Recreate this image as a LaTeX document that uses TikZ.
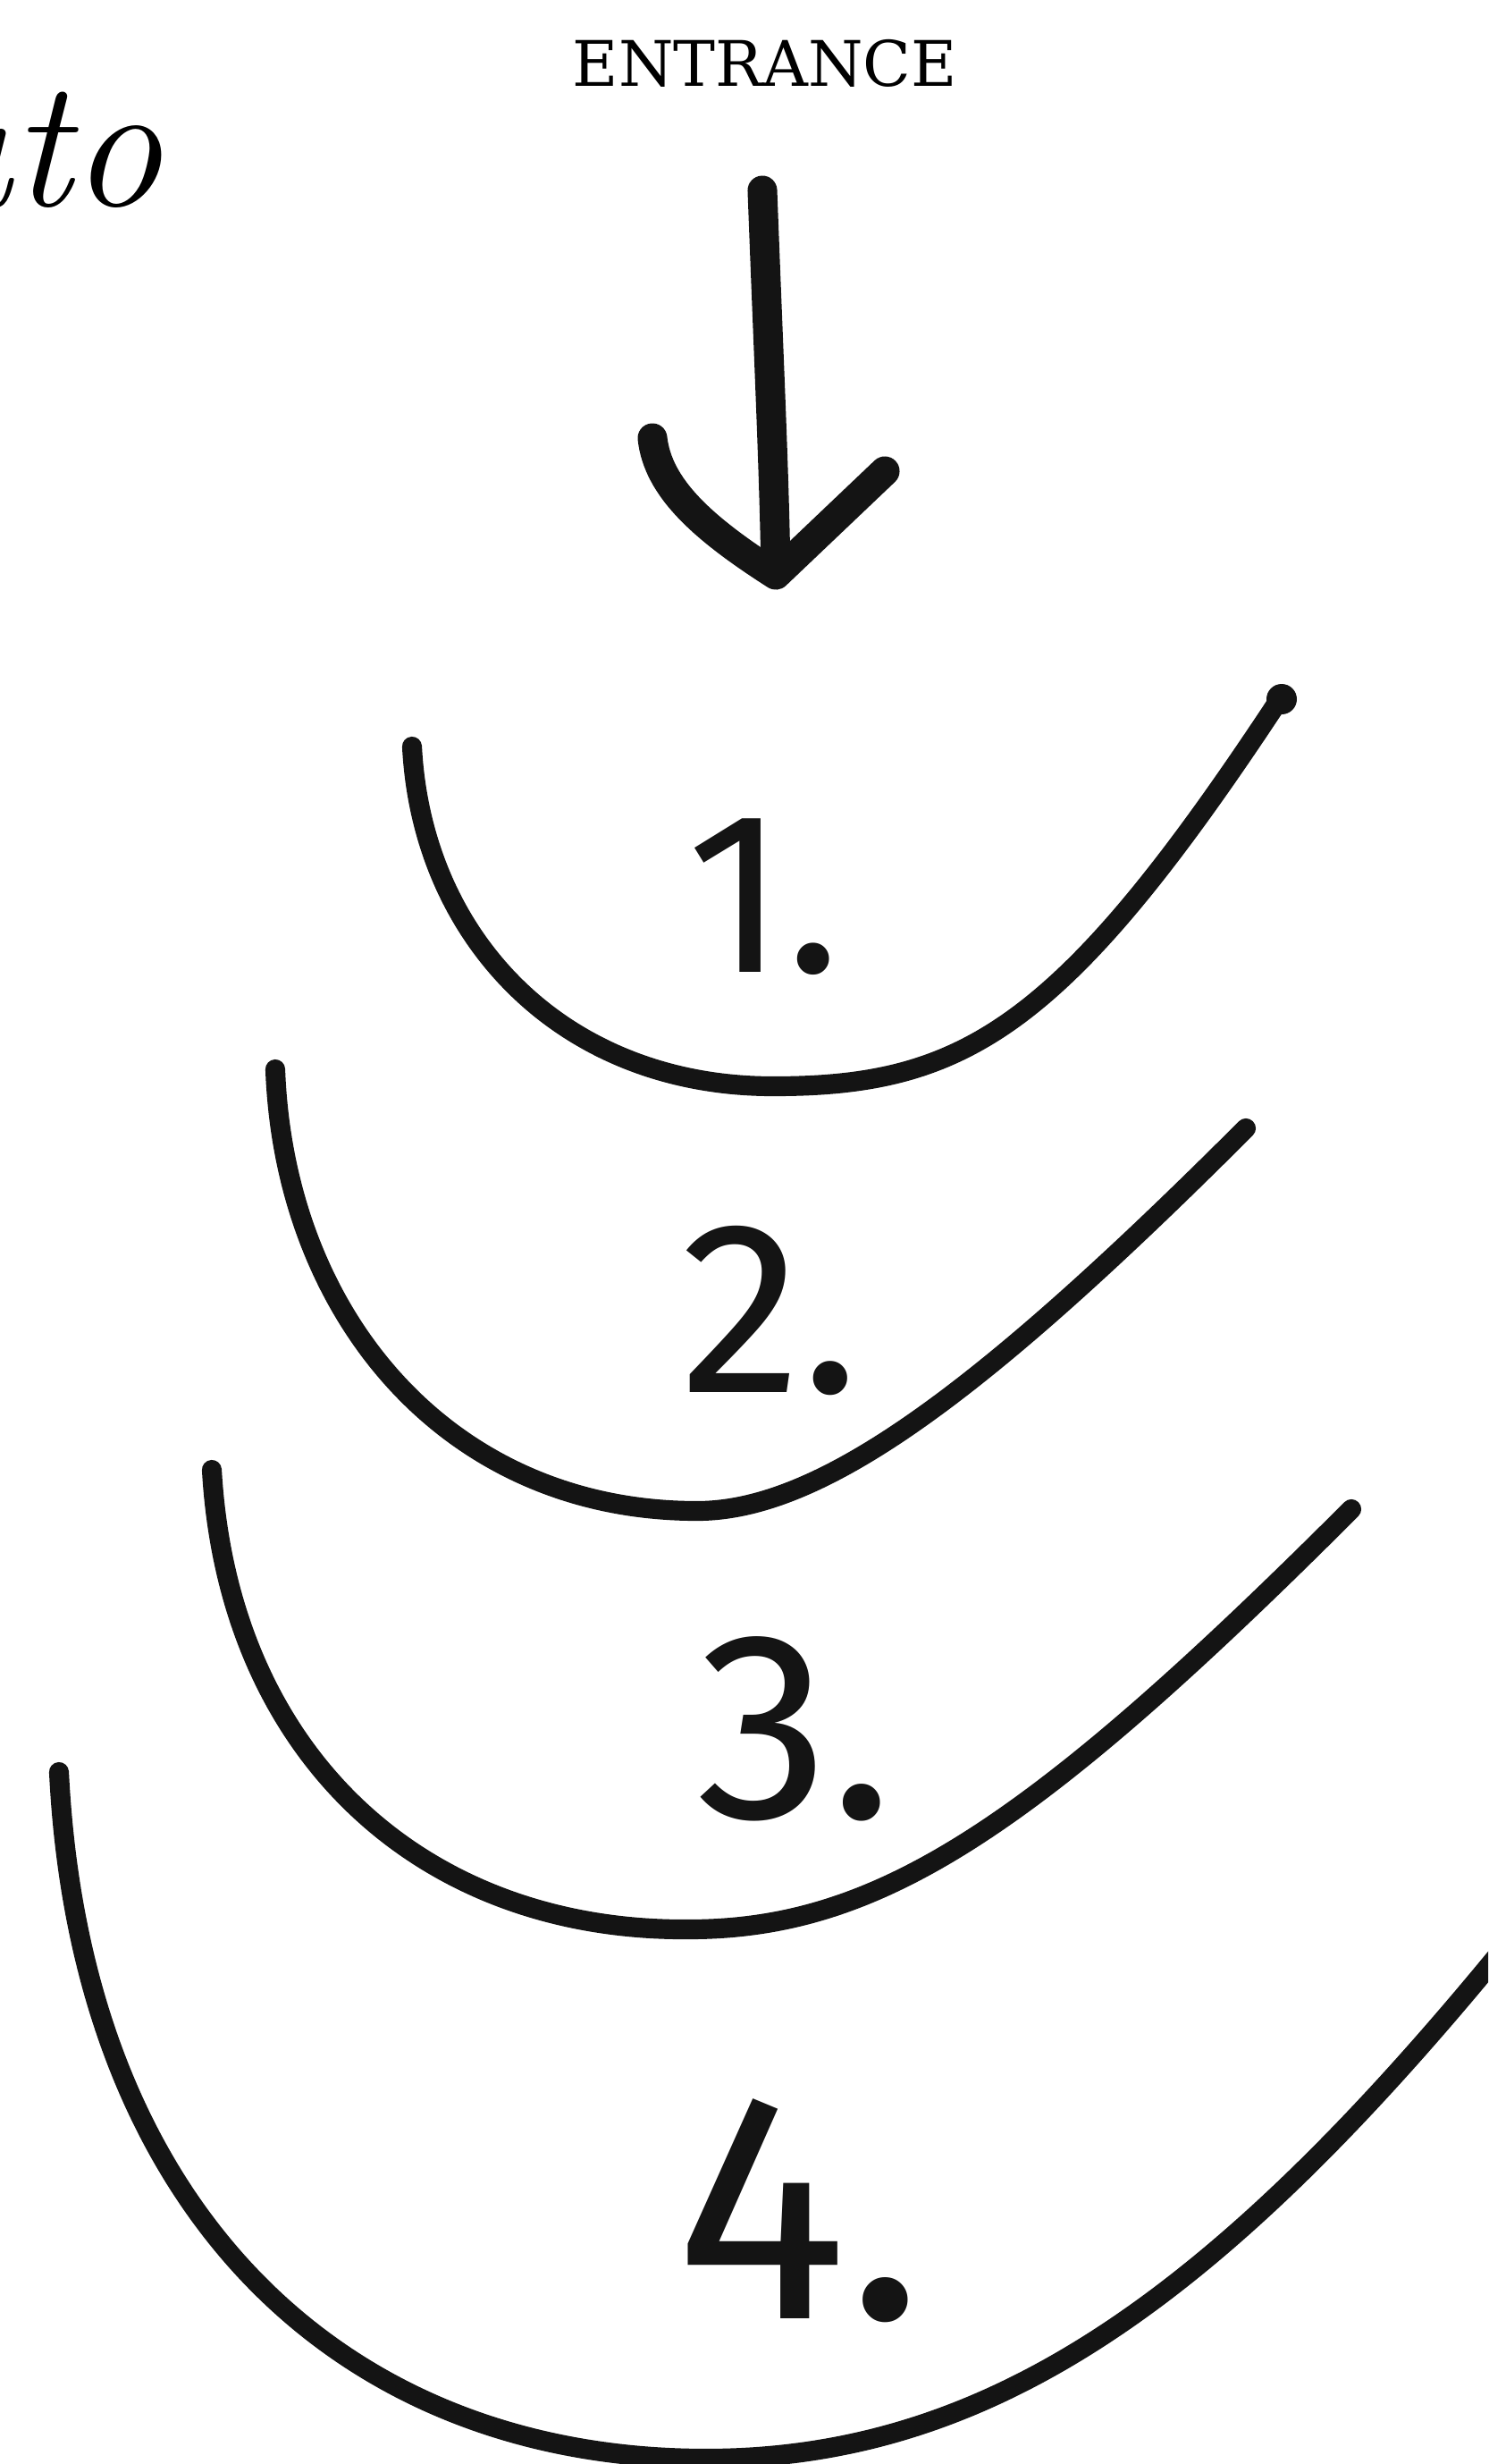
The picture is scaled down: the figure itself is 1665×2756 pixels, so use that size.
\documentclass[tikz,border=0pt]{standalone}
\usepackage{fontspec}
\usepackage{tikz}
\usetikzlibrary{positioning}
\newfontfamily\handfont{Fira Sans}
\newfontfamily\slabfont{DejaVu Serif}
\colorlet{cInk}{black!92}
\tikzset{
  pen/.style={cInk, line width=6.3pt, line cap=round, line join=round},
  arrowpen/.style={cInk, line width=9.4pt, line cap=round, line join=round},
  numlabel/.style={anchor=base, inner sep=0pt, text=cInk}
}

\begin{document}
\begin{tikzpicture}[x=0.01cm, y=-0.01cm]
    \clip (0,0) rectangle (1665,2756);
    % Caption
    \node[anchor=base east, inner sep=0pt, font=\fontsize{58}{58}\selectfont\itshape] (word) at (182,230) {ato};
    \node[inner sep=0pt, font=\slabfont\fontsize{20}{20}\selectfont] (entrance) at (856,71) {ENTRANCE};
    % Arrow
    \draw[arrowpen] (853,213) .. controls (860,400) and (866,520) .. (868,640);
    \draw[arrowpen] (730,490) .. controls (736,545) and (785,590) .. (868,643) -- (990,527);
    % Arc 1
    \draw[pen] (461,835) .. controls (472,1050) and (630,1215) .. (865,1215)
                         .. controls (1080,1215) and (1190,1150) .. (1435,777);
    \fill[cInk] (1434,782) circle (17);
    \node[numlabel, font=\handfont\fontsize{73}{73}\selectfont] (num1) at (855,1087) {1.};
    % Arc 2
    \draw[pen] (308,1196) .. controls (318,1470) and (500,1690) .. (780,1690)
                          .. controls (920,1690) and (1100,1556) .. (1394,1262);
    \node[numlabel, font=\handfont\fontsize{78}{78}\selectfont] (num2) at (862,1557) {2.};
    % Arc 3
    \draw[pen] (237,1644) .. controls (255,1960) and (470,2160) .. (770,2158)
                          .. controls (980,2158) and (1150,2050) .. (1512,1688);
    \node[numlabel, font=\handfont\fontsize{85}{85}\selectfont] (num3) at (890,2033) {3.};
    % Arc 4
    \draw[pen] (66,1982) .. controls (90,2470) and (380,2750) .. (790,2750)
                         .. controls (1100,2750) and (1350,2580) .. (1665,2200) -- (1720,2134);
    \node[numlabel, font=\handfont\fontsize{103}{103}\selectfont] (num4) at (895,2593) {4.};
\end{tikzpicture}
\end{document}
